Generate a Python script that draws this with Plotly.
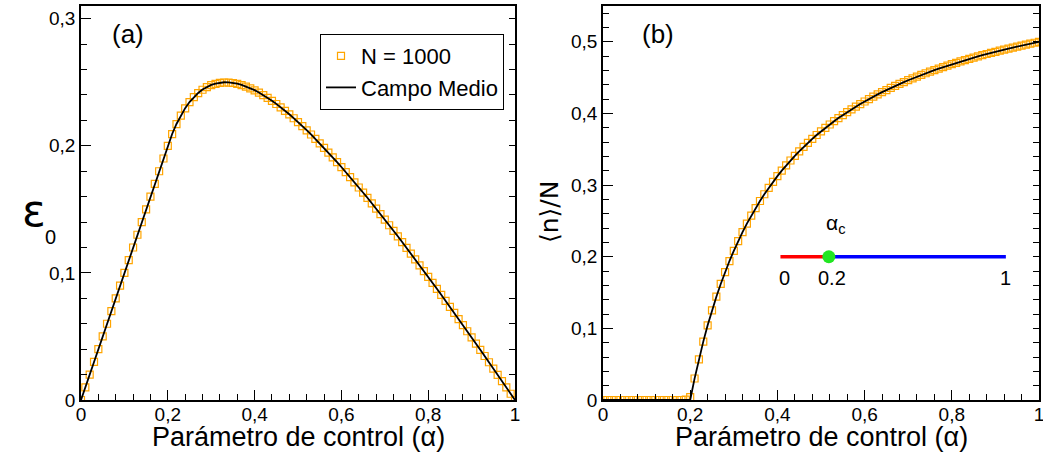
import plotly.graph_objects as go

W, H = 1043, 460
ML, MR, MT, MB = 0, 0, 6, 60

# ---------------- data ----------------
alpha = [0.00, 0.01, 0.02, 0.03, 0.04, 0.05, 0.06, 0.07, 0.08, 0.09,
         0.10, 0.11, 0.12, 0.13, 0.14, 0.15, 0.16, 0.17, 0.18, 0.19,
         0.20, 0.21, 0.22, 0.23, 0.24, 0.25, 0.26, 0.27, 0.28, 0.29,
         0.30, 0.31, 0.32, 0.33, 0.34, 0.35, 0.36, 0.37, 0.38, 0.39,
         0.40, 0.41, 0.42, 0.43, 0.44, 0.45, 0.46, 0.47, 0.48, 0.49,
         0.50, 0.51, 0.52, 0.53, 0.54, 0.55, 0.56, 0.57, 0.58, 0.59,
         0.60, 0.61, 0.62, 0.63, 0.64, 0.65, 0.66, 0.67, 0.68, 0.69,
         0.70, 0.71, 0.72, 0.73, 0.74, 0.75, 0.76, 0.77, 0.78, 0.79,
         0.80, 0.81, 0.82, 0.83, 0.84, 0.85, 0.86, 0.87, 0.88, 0.89,
         0.90, 0.91, 0.92, 0.93, 0.94, 0.95, 0.96, 0.97, 0.98, 0.99,
         1.00]

eps_campo_medio = [0.00, 0.01, 0.02, 0.03, 0.04, 0.05, 0.06, 0.07, 0.08, 0.09,
                   0.10, 0.11, 0.12, 0.13, 0.14, 0.15, 0.16, 0.17, 0.18, 0.19,
                   0.20,
                   0.2093, 0.2172, 0.2239, 0.2296, 0.2344, 0.2384, 0.2416, 0.2443, 0.2464, 0.2479,
                   0.2490, 0.2497, 0.2500, 0.2499, 0.2496, 0.2489, 0.2480, 0.2468, 0.2454, 0.2438,
                   0.2419, 0.2399, 0.2378, 0.2355, 0.2330, 0.2304, 0.2276, 0.2248, 0.2218, 0.2188,
                   0.2156, 0.2123, 0.2090, 0.2055, 0.2020, 0.1984, 0.1947, 0.1910, 0.1872, 0.1833,
                   0.1794, 0.1754, 0.1714, 0.1673, 0.1632, 0.1591, 0.1548, 0.1506, 0.1463, 0.1420,
                   0.1376, 0.1332, 0.1288, 0.1243, 0.1198, 0.1153, 0.1107, 0.1061, 0.1015, 0.0969,
                   0.0922, 0.0875, 0.0828, 0.0781, 0.0734, 0.0686, 0.0638, 0.0590, 0.0542, 0.0493,
                   0.0444, 0.0396, 0.0347, 0.0298, 0.0248, 0.0199, 0.0149, 0.0100, 0.0050, 0.0]

eps_n1000 = [0.00, 0.01, 0.02, 0.03, 0.04, 0.05, 0.06, 0.07, 0.08, 0.09,
             0.10, 0.11, 0.12, 0.13, 0.14, 0.15, 0.16, 0.17, 0.18, 0.19,
             0.20,
             0.2092, 0.2171, 0.2238, 0.2295, 0.2343, 0.2383, 0.2415, 0.2441, 0.2462, 0.2477,
             0.2488, 0.2495, 0.2498, 0.2497, 0.2494, 0.2487, 0.2478, 0.2466, 0.2452, 0.2436,
             0.2418, 0.2398, 0.2377, 0.2354, 0.2329, 0.2303, 0.2275, 0.2247, 0.2217, 0.2187,
             0.2155, 0.2122, 0.2089, 0.2054, 0.2019, 0.1983, 0.1946, 0.1909, 0.1871, 0.1832,
             0.1793, 0.1753, 0.1713, 0.1672, 0.1631, 0.1590, 0.1547, 0.1505, 0.1462, 0.1419,
             0.1375, 0.1331, 0.1287, 0.1242, 0.1197, 0.1152, 0.1106, 0.1060, 0.1014, 0.0968,
             0.0921, 0.0874, 0.0827, 0.0780, 0.0733, 0.0685, 0.0637, 0.0589, 0.0541, 0.0492,
             0.0443, 0.0395, 0.0346, 0.0297, 0.0247, 0.0198, 0.0148, 0.0099, 0.0049, 0.0]

occ_campo_medio = [
    0.0, 0.0, 0.0, 0.0, 0.0, 0.0, 0.0, 0.0, 0.0, 0.0,
    0.0, 0.0, 0.0, 0.0, 0.0, 0.0, 0.0, 0.0, 0.0, 0.0,
    0.0,
    0.0298, 0.0568, 0.0815, 0.1042, 0.1250, 0.1442, 0.1620, 0.1786, 0.1940, 0.2083,
    0.2218, 0.2344, 0.2462, 0.2574, 0.2679, 0.2778, 0.2872, 0.2961, 0.3045, 0.3125,
    0.3201, 0.3274, 0.3343, 0.3409, 0.3472, 0.3533, 0.3590, 0.3646, 0.3699, 0.3750,
    0.3799, 0.3846, 0.3892, 0.3935, 0.3977, 0.4018, 0.4057, 0.4095, 0.4131, 0.4167,
    0.4201, 0.4234, 0.4266, 0.4297, 0.4327, 0.4356, 0.4384, 0.4412, 0.4438, 0.4464,
    0.4489, 0.4514, 0.4538, 0.4561, 0.4583, 0.4605, 0.4627, 0.4647, 0.4668, 0.4688,
    0.4707, 0.4726, 0.4744, 0.4762, 0.4779, 0.4797, 0.4813, 0.4830, 0.4846, 0.4861,
    0.4876, 0.4891, 0.4906, 0.4920, 0.4934, 0.4948, 0.4961, 0.4975, 0.4987, 0.5000]

occ_n1000 = [
    0.0, 0.0, 0.0, 0.0, 0.0, 0.0, 0.0, 0.0, 0.0, 0.0,
    0.0, 0.0, 0.0, 0.0, 0.0, 0.0, 0.0, 0.0, 0.0, 0.0005,
    0.004,
    0.0300, 0.0568, 0.0815, 0.1042, 0.1250, 0.1442, 0.1620, 0.1786, 0.1940, 0.2083,
    0.2218, 0.2344, 0.2462, 0.2574, 0.2679, 0.2778, 0.2872, 0.2961, 0.3045, 0.3125,
    0.3201, 0.3274, 0.3343, 0.3409, 0.3472, 0.3533, 0.3590, 0.3646, 0.3699, 0.3750,
    0.3799, 0.3846, 0.3892, 0.3935, 0.3977, 0.4018, 0.4057, 0.4095, 0.4131, 0.4167,
    0.4201, 0.4234, 0.4266, 0.4297, 0.4327, 0.4356, 0.4384, 0.4412, 0.4438, 0.4464,
    0.4489, 0.4514, 0.4538, 0.4561, 0.4583, 0.4605, 0.4627, 0.4647, 0.4668, 0.4688,
    0.4707, 0.4726, 0.4744, 0.4762, 0.4779, 0.4797, 0.4813, 0.4830, 0.4846, 0.4861,
    0.4876, 0.4891, 0.4906, 0.4920, 0.4934, 0.4948, 0.4961, 0.4975, 0.4987, 0.5000]

# inset (phase diagram) in panel (b)
inset_x = [0.407, 0.518, 0.924]          # start, critical point, end
inset_labels = ["0", "0.2", "1"]
inset_y = 0.2

legend_names = ["N = 1000", "Campo Medio"]
x_title = "Parámetro de control (α)"

# ---------------- helpers ----------------
PW = W - ML - MR
PH = H - MT - MB


def px(x):
    return (x - ML) / PW


def py(y):
    return (H - MB - y) / PH


FONT = "Liberation Sans, Arial, Helvetica, sans-serif"
ORANGE = "#FFA500"

fig = go.Figure()

# panel (a)
fig.add_trace(go.Scatter(x=alpha, y=eps_n1000, mode="markers", name=legend_names[0],
                         marker=dict(symbol="square-open", size=7, color=ORANGE,
                                     line=dict(width=1.2, color=ORANGE)),
                         xaxis="x", yaxis="y"))
fig.add_trace(go.Scatter(x=alpha, y=eps_campo_medio, mode="lines", name=legend_names[1],
                         line=dict(color="black", width=1.8),
                         xaxis="x", yaxis="y"))
fig.add_trace(go.Scatter(x=[], y=[], xaxis="x", yaxis="y3", showlegend=False, hoverinfo="skip"))

# panel (b)
fig.add_trace(go.Scatter(x=alpha, y=occ_n1000, mode="markers", showlegend=False,
                         marker=dict(symbol="square-open", size=7, color=ORANGE,
                                     line=dict(width=1.2, color=ORANGE)),
                         xaxis="x2", yaxis="y2"))
fig.add_trace(go.Scatter(x=alpha, y=occ_campo_medio, mode="lines", showlegend=False,
                         line=dict(color="black", width=1.8),
                         xaxis="x2", yaxis="y2"))
fig.add_trace(go.Scatter(x=[], y=[], xaxis="x2", yaxis="y4", showlegend=False, hoverinfo="skip"))

# inset lines and critical point
fig.add_trace(go.Scatter(x=[inset_x[0], inset_x[1]], y=[inset_y, inset_y], mode="lines",
                         line=dict(color="#FF0000", width=3.5), showlegend=False,
                         xaxis="x2", yaxis="y2"))
fig.add_trace(go.Scatter(x=[inset_x[1], inset_x[2]], y=[inset_y, inset_y], mode="lines",
                         line=dict(color="#0000FF", width=3.5), showlegend=False,
                         xaxis="x2", yaxis="y2"))
fig.add_trace(go.Scatter(x=[inset_x[1]], y=[inset_y], mode="markers",
                         marker=dict(color="#22E622", size=13), showlegend=False,
                         xaxis="x2", yaxis="y2"))

axis_common = dict(showline=True, linecolor="black", linewidth=1.5, mirror=True,
                   showgrid=False, zeroline=False, ticks="inside", tickcolor="black",
                   tickwidth=1.2, ticklen=10, ticklabeloverflow="allow",
                   tickfont=dict(family=FONT, size=19, color="black"))

minor_x = dict(dtick=0.04, ticklen=6, ticks="inside", tickcolor="black", tickwidth=1.2)
minor_y = dict(dtick=0.02, ticklen=6, ticks="inside", tickcolor="black", tickwidth=1.2)

fig.update_layout(
    width=W, height=H,
    margin=dict(l=ML, r=MR, t=MT, b=MB, autoexpand=False),
    paper_bgcolor="white", plot_bgcolor="white",
    separators=",.",
    font=dict(family=FONT, color="black"),
    xaxis=dict(domain=[px(81), px(515)], range=[0, 1], dtick=0.2, tick0=0,
               minor=minor_x, anchor="y", ticklabelstandoff=-4, **axis_common),
    yaxis=dict(domain=[0, 1], range=[0, 0.31], dtick=0.1, tick0=0,
               minor=minor_y, anchor="x", **axis_common),
    yaxis3=dict(overlaying="y", side="right", anchor="x", range=[0, 0.31],
                tickmode="linear", tick0=0, dtick=0.02, ticks="inside", ticklen=6,
                tickcolor="black", tickwidth=1.2, showticklabels=False,
                showgrid=False, zeroline=False, showline=False),
    xaxis2=dict(domain=[px(603), px(1039)], range=[0, 1], dtick=0.2, tick0=0,
                minor=minor_x, anchor="y2", ticklabelstandoff=-4, **axis_common),
    yaxis2=dict(domain=[0, 1], range=[0, 0.55], dtick=0.1, tick0=0,
                minor=minor_y, anchor="x2", **axis_common),
    yaxis4=dict(overlaying="y2", side="right", anchor="x2", range=[0, 0.55],
                tickmode="linear", tick0=0, dtick=0.02, ticks="inside", ticklen=6,
                tickcolor="black", tickwidth=1.2, showticklabels=False,
                showgrid=False, zeroline=False, showline=False),
    legend=dict(x=px(504), xanchor="right", y=py(34), yanchor="top",
                bgcolor="white", bordercolor="black", borderwidth=1,
                font=dict(family=FONT, size=22, color="black"),
                tracegroupgap=0, itemwidth=30),
    showlegend=True,
)


def note(x, y, text, size, family=FONT, **kw):
    return dict(x=px(x), y=py(y), xref="paper", yref="paper", text=text,
                xanchor="center", yanchor="middle", showarrow=False,
                font=dict(family=family, size=size, color="black"), **kw)


ann = [
    note(298, 437, x_title, 27),
    note(821, 437, x_title, 27),
    note(34, 210, "ε", 44, family="DejaVu Sans, sans-serif"),
    note(50, 237, "0", 20),
    note(549, 212, "⟨n⟩/N", 25, family="DejaVu Sans, sans-serif", textangle=-90),
    note(128, 34, "(a)", 26),
    note(658, 34, "(b)", 26),
]
# inset labels
shifts = [4, 3, 0]
for xv, lab, sh in zip(inset_x, inset_labels, shifts):
    ann.append(dict(x=xv, y=inset_y, xref="x2", yref="y2", text=lab, showarrow=False,
                    xanchor="center", yanchor="middle",
                    xshift=sh, yshift=-21, font=dict(family=FONT, size=20, color="black")))
ann.append(dict(x=inset_x[1], y=inset_y, xref="x2", yref="y2", text="α<sub>c</sub>",
                showarrow=False, xanchor="center", yanchor="middle", xshift=7, yshift=33,
                font=dict(family=FONT, size=21, color="black")))

fig.update_layout(annotations=ann)

fig.write_html("out.html", config={"displayModeBar": False},
               post_script="document.body.style.margin='0px';document.body.style.padding='0px';")
